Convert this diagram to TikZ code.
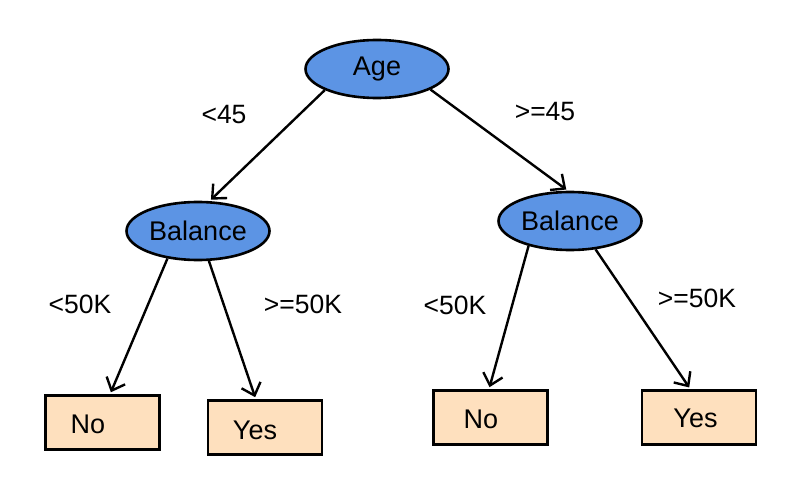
\documentclass[tikz,border=0pt]{standalone}
\usepackage{fontspec}
\setmainfont{Liberation Sans}
\usetikzlibrary{shapes.geometric,arrows.meta}
\definecolor{ellfill}{RGB}{92,148,228}
\definecolor{boxfill}{RGB}{254,224,190}
\tikzset{
  px/.style={x=1pt,y=-1pt},
  ell/.style={ellipse,draw=black,line width=2.6pt,fill=ellfill,inner sep=0pt,
    minimum width=143pt,minimum height=58pt,font=\fontsize{27}{30}\selectfont},
  leaf/.style={rectangle,draw=black,line width=2.8pt,fill=boxfill,inner sep=0pt,
    minimum width=114pt,minimum height=54pt},
  leaftext/.style={inner sep=0pt,font=\fontsize{27}{30}\selectfont},
  cond/.style={inner sep=0pt,font=\fontsize{26.5}{29}\selectfont},
  edge/.style={line width=2.4pt,-{Straight Barb[length=11pt,width=20pt,line width=2.4pt]}}
}
\begin{document}
\begin{tikzpicture}[px]
\useasboundingbox (0,0) rectangle (797,478);
\node[ell] (age) at (377,69) {Age};
\node[ell] (balL) at (198,231) {Balance};
\node[ell] (balR) at (570,221) {Balance};
\node[leaf] (noL) at (102.5,422.5) {};
\node[leaf] (yesL) at (265,427.5) {};
\node[leaf] (noR) at (490.5,417.5) {};
\node[leaf] (yesR) at (699,417.5) {};
\node[leaftext] (tNoL) at (88,424) {No};
\node[leaftext] (tYesL) at (255,430) {Yes};
\node[leaftext] (tNoR) at (481,419) {No};
\node[leaftext] (tYesR) at (695.5,418) {Yes};
\node[cond] (c1) at (224,115) {<45};
\node[cond] (c2) at (545,112) {>=45};
\node[cond] (c3) at (80,304) {<50K};
\node[cond] (c4) at (303,304) {>=50K};
\node[cond] (c5) at (455,305) {<50K};
\node[cond] (c6) at (697,298) {>=50K};
\draw[edge,shorten >=2pt] (age.202) -- (balL.69);
\draw[edge,shorten >=2pt] (age.339) -- (balR.94);
\draw[edge,shorten >=2pt] (balL.222) -- (noL.75);
\draw[edge,shorten >=2pt] (balL.290) -- (yesL.108);
\draw[edge,shorten >=2pt] (balR.211) -- (noR.93);
\draw[edge,shorten >=2pt] (balR.312) -- (yesR.107);
\end{tikzpicture}
\end{document}
